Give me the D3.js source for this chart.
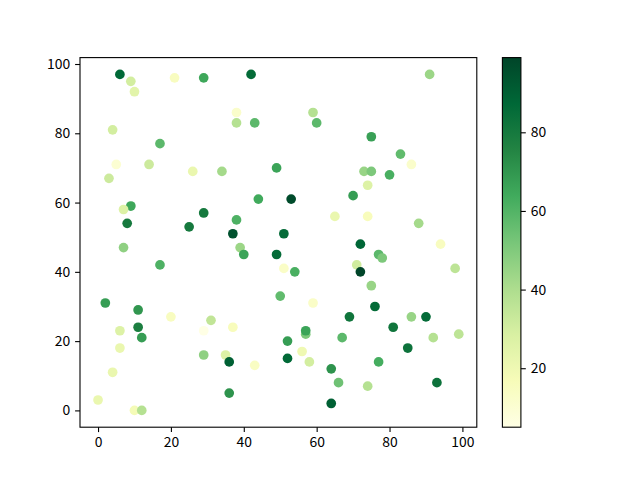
<!DOCTYPE html>
<html>
<head>
<meta charset="utf-8">
<script src="https://cdn.jsdelivr.net/npm/d3@7"></script>
<style>
  body { margin: 0; background: #fff; }
  svg { display: block; }
  text { font-family: "Noto Sans CJK SC", "Noto Sans", sans-serif; font-size: 13.9px; fill: #000; }
</style>
</head>
<body>
<svg id="chart" width="640" height="480"></svg>
<script>
// scatter points: x, y and colour value
var xs = [6, 9, 10, 21, 29, 4, 17, 5, 14, 3, 26, 9, 7, 29, 8, 25, 7,
          42, 38, 59, 38, 43, 60, 34, 49, 44, 53, 65, 38, 37, 51, 39,
          91, 75, 83, 86, 73, 75, 80, 74, 70, 74, 88, 72, 94,
          17, 2, 11, 20, 31, 6, 11, 29, 12, 6, 29, 4, 0, 10, 12,
          40, 49, 51, 54, 50, 59, 37, 57, 57, 52, 67, 35, 36, 43, 52, 56, 58, 64, 66, 36, 64,
          77, 78, 71, 72, 98, 75, 76, 69, 86, 90, 81, 92, 99, 85, 77, 74, 93];
var ys = [97, 95, 92, 96, 96, 81, 77, 71, 71, 67, 69, 59, 58, 57, 54, 53, 47,
          97, 86, 86, 83, 83, 83, 69, 70, 61, 61, 56, 55, 51, 51, 47,
          97, 79, 74, 71, 69, 69, 68, 65, 62, 56, 54, 48, 48,
          42, 31, 29, 27, 26, 23, 24, 23, 21, 18, 16, 11, 3, 0, 0,
          45, 45, 41, 40, 33, 31, 24, 22, 23, 20, 21, 16, 14, 13, 15, 17, 14, 12, 8, 5, 2,
          45, 44, 42, 40, 41, 36, 30, 27, 27, 27, 24, 21, 22, 18, 14, 7, 8];
var colors = [87, 30, 25, 15, 65, 30, 58, 10, 32, 32, 22, 65, 27, 80, 80, 80, 47,
              86, 12, 38, 38, 58, 58, 42, 66, 64, 97, 22, 61, 95, 86, 44,
              44, 67, 57, 12, 45, 51, 62, 27, 68, 16, 42, 88, 15,
              61, 68, 70, 15, 35, 27, 78, 5, 68, 22, 47, 22, 22, 18, 38,
              66, 86, 13, 62, 57, 13, 16, 51, 66, 68, 58, 27, 90, 14, 87, 20, 30, 71, 54, 71, 90,
              58, 51, 31, 99, 36, 45, 86, 82, 45, 86, 82, 38, 36, 83, 63, 38, 83];
var xTicks = [0, 20, 40, 60, 80, 100];
var yTicks = [0, 20, 40, 60, 80, 100];
var cbarTicks = [20, 40, 60, 80];

// matplotlib YlGn (ColorBrewer 9 classes)
var ylgn = ['#ffffe5', '#f7fcb9', '#d9f0a3', '#addd8e', '#78c679',
            '#41ab5d', '#238443', '#006837', '#004529'];

var svg = d3.select('#chart');
var axLeft = 80, axRight = 476.8, axTop = 57.6, axBottom = 427.2;
var cbLeft = 502.4, cbRight = 520.9;

var xExt = d3.extent(xs), yExt = d3.extent(ys);
var xPad = (xExt[1] - xExt[0]) * 0.05, yPad = (yExt[1] - yExt[0]) * 0.05;
var x = d3.scaleLinear().domain([xExt[0] - xPad, xExt[1] + xPad]).range([axLeft, axRight]);
var y = d3.scaleLinear().domain([yExt[0] - yPad, yExt[1] + yPad]).range([axBottom, axTop]);

var cExt = d3.extent(colors);
var cStops = ylgn.map(function(d, i) { return cExt[0] + (cExt[1] - cExt[0]) * i / (ylgn.length - 1); });
var color = d3.scaleLinear().domain(cStops).range(ylgn).interpolate(d3.interpolateRgb).clamp(true);

// points
var pts = xs.map(function(d, i) { return { x: d, y: ys[i], c: colors[i] }; });
svg.append('g')
  .selectAll('circle')
  .data(pts)
  .enter()
  .append('circle')
  .attr('cx', function(d) { return x(d.x); })
  .attr('cy', function(d) { return y(d.y); })
  .attr('r', 4.85)
  .attr('fill', function(d) { return color(d.c); });

// axes
var xAxis = svg.append('g')
  .attr('transform', 'translate(0,' + axBottom + ')')
  .call(d3.axisBottom(x).tickValues(xTicks).tickSizeInner(4.9).tickSizeOuter(0).tickPadding(4.9));
var yAxis = svg.append('g')
  .attr('transform', 'translate(' + axLeft + ',0)')
  .call(d3.axisLeft(y).tickValues(yTicks).tickSizeInner(4.9).tickSizeOuter(0).tickPadding(4.9));
[xAxis, yAxis].forEach(function(a) {
  a.select('.domain').remove();
  a.selectAll('line').attr('stroke', '#000').attr('stroke-width', 1.1);
  a.selectAll('text').attr('font-size', null).attr('font-family', null);
});

svg.append('rect')
  .attr('x', axLeft).attr('y', axTop)
  .attr('width', axRight - axLeft).attr('height', axBottom - axTop)
  .attr('fill', 'none').attr('stroke', '#000').attr('stroke-width', 1.1);

// colorbar
var defs = svg.append('defs');
var grad = defs.append('linearGradient')
  .attr('id', 'cbGrad')
  .attr('x1', 0).attr('y1', 1).attr('x2', 0).attr('y2', 0);
grad.selectAll('stop')
  .data(ylgn)
  .enter()
  .append('stop')
  .attr('offset', function(d, i) { return i / (ylgn.length - 1); })
  .attr('stop-color', function(d) { return d; });

var cy = d3.scaleLinear().domain(cExt).range([axBottom, axTop]);
svg.append('rect')
  .attr('x', cbLeft).attr('y', axTop)
  .attr('width', cbRight - cbLeft).attr('height', axBottom - axTop)
  .attr('fill', 'url(#cbGrad)')
  .attr('stroke', '#000').attr('stroke-width', 1.1);

var cAxis = svg.append('g')
  .attr('transform', 'translate(' + cbRight + ',0)')
  .call(d3.axisRight(cy).tickValues(cbarTicks).tickSizeInner(4.9).tickSizeOuter(0).tickPadding(4.9));
cAxis.select('.domain').remove();
cAxis.selectAll('line').attr('stroke', '#000').attr('stroke-width', 1.1);
cAxis.selectAll('text').attr('font-size', null).attr('font-family', null);
</script>
</body>
</html>
